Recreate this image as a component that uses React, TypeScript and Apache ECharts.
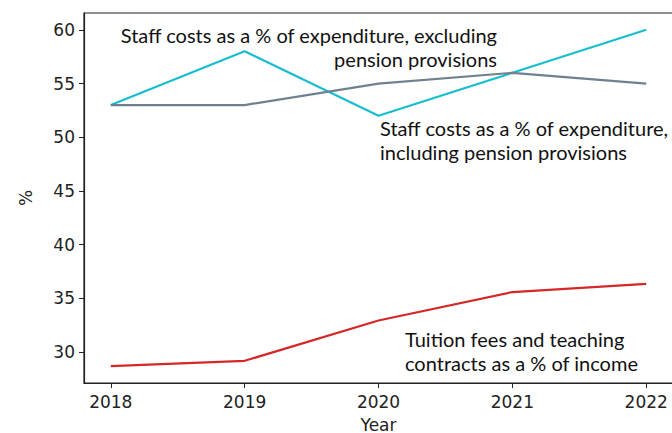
import React, { useEffect, useRef } from "react";
import * as echarts from "echarts";

const years = [2018, 2019, 2020, 2021, 2022];
const staffExcl = [53, 58, 52, 56, 60];
const staffIncl = [53, 53, 55, 56, 55];
const tuition = [28.7, 29.2, 32.95, 35.6, 36.35];
const yTicks = [30, 35, 40, 45, 50, 55, 60];

export default function App() {
  const ref = useRef<HTMLDivElement>(null);
  useEffect(() => {
    const chart = echarts.init(ref.current!, null, { renderer: "svg" });
    const tickFont = "DejaVu Sans";
    const annFont = "Lato";
    const annStyle = { fontFamily: annFont, fontSize: 20, lineHeight: 24, fill: "#111" };
    chart.setOption({
      animation: false,
      grid: {
        left: 84,
        top: 13,
        width: 589,
        height: 370,
        show: true,
        borderColor: "#222",
        borderWidth: 1.2,
        containLabel: false,
        outerBoundsMode: "none",
      },
      xAxis: {
        type: "value",
        min: 2017.8,
        max: 2022.2,
        interval: 1,
        name: "Year",
        nameLocation: "middle",
        nameGap: 33,
        nameTextStyle: { fontFamily: tickFont, fontSize: 17, color: "#222" },
        axisLine: { show: true, lineStyle: { color: "#222", width: 1.2 } },
        axisTick: { show: true, length: 5, lineStyle: { color: "#222" }, customValues: years },
        axisLabel: {
          fontFamily: tickFont,
          fontSize: 17,
          color: "#222",
          margin: 10,
          customValues: years,
          formatter: (v: number) => String(v),
        },
        splitLine: { show: false },
      },
      yAxis: {
        type: "value",
        min: 27.135,
        max: 61.565,
        name: "%",
        nameLocation: "middle",
        nameGap: 50,
        nameRotate: 90,
        nameTextStyle: { fontFamily: tickFont, fontSize: 17, color: "#222" },
        axisLine: { show: true, lineStyle: { color: "#222", width: 1.2 } },
        axisTick: { show: true, length: 5, lineStyle: { color: "#222" }, customValues: yTicks },
        axisLabel: {
          fontFamily: tickFont,
          fontSize: 17,
          color: "#222",
          margin: 9,
          customValues: yTicks,
          formatter: (v: number) => String(v),
        },
        splitLine: { show: false },
      },
      series: [
        {
          type: "line",
          data: years.map((y, i) => [y, staffExcl[i]]),
          symbol: "none",
          lineStyle: { color: "#17becf", width: 2.2 },
        },
        {
          type: "line",
          data: years.map((y, i) => [y, staffIncl[i]]),
          symbol: "none",
          lineStyle: { color: "#708090", width: 2.2 },
        },
        {
          type: "line",
          data: years.map((y, i) => [y, tuition[i]]),
          symbol: "none",
          lineStyle: { color: "#d62728", width: 2.2 },
        },
      ],
      graphic: [
        {
          type: "text",
          x: 497,
          y: 23,
          style: {
            ...annStyle,
            text: "Staff costs as a % of expenditure, excluding\npension provisions",
            align: "right",
            verticalAlign: "top",
          },
        },
        {
          type: "text",
          x: 380,
          y: 116,
          style: {
            ...annStyle,
            text: "Staff costs as a % of expenditure,\nincluding pension provisions",
            align: "left",
            verticalAlign: "top",
          },
        },
        {
          type: "text",
          x: 405,
          y: 327,
          style: {
            ...annStyle,
            text: "Tuition fees and teaching\ncontracts as a % of income",
            align: "left",
            verticalAlign: "top",
          },
        },
      ],
    });
    return () => chart.dispose();
  }, []);
  return (
    <div
      ref={ref}
      style={{ position: "fixed", left: 0, top: 0, width: 672, height: 433, background: "#fff" }}
    />
  );
}
